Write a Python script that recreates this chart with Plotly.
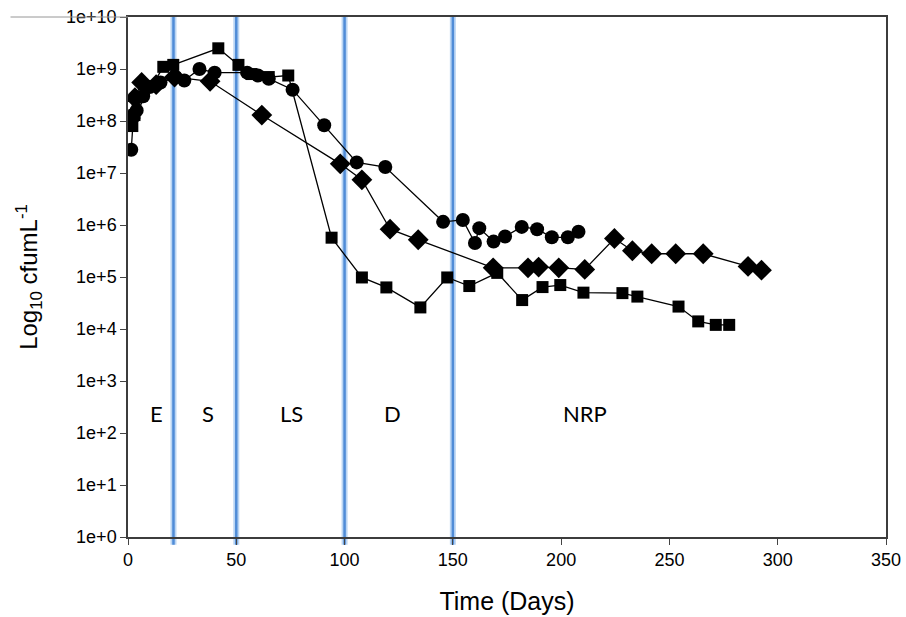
import plotly.graph_objects as go

# Circle series
circle_days = [1.5, 2.5, 4, 7, 10, 15, 22, 26, 33, 40, 55, 60, 65, 76, 90.6, 105.6, 118.8, 145.5, 154.6, 160.2, 162.2, 168.8, 174.1, 181.8, 188.9, 195.7, 203.1, 208]
circle_vals = [2.8e7, 1.2e8, 1.6e8, 3.0e8, 4.5e8, 5.5e8, 7.0e8, 6.0e8, 1.0e9, 8.5e8, 8.5e8, 7.5e8, 6.5e8, 4.0e8, 8.3e7, 1.6e7, 1.3e7, 1.15e6, 1.25e6, 4.5e5, 8.7e5, 4.8e5, 6.0e5, 9.2e5, 8.3e5, 5.8e5, 5.8e5, 7.4e5]

# Square series
square_days = [2, 3, 16.3, 20.9, 41.7, 51, 57, 65, 74, 94, 108, 119.3, 135, 147.4, 157.6, 170.5, 182, 191.4, 199.6, 210.3, 228.3, 235.2, 254.2, 263.3, 271.4, 277.6]
square_vals = [8.0e7, 1.3e8, 1.1e9, 1.2e9, 2.5e9, 1.2e9, 8.0e8, 7.0e8, 7.5e8, 5.7e5, 9.8e4, 6.3e4, 2.6e4, 9.8e4, 6.7e4, 1.2e5, 3.6e4, 6.4e4, 7.0e4, 5.0e4, 4.9e4, 4.2e4, 2.7e4, 1.4e4, 1.2e4, 1.2e4]

# Diamond series
diamond_days = [1, 3.2, 6.3, 13, 21.5, 37.9, 61.8, 98, 108, 121, 134, 168.6, 184.7, 189.6, 198.9, 210.9, 224.6, 232.9, 241.8, 252.9, 265.6, 286.3, 292.5]
diamond_vals = [1.1e8, 2.8e8, 5.5e8, 5.0e8, 7.0e8, 5.8e8, 1.3e8, 1.5e7, 7.4e6, 8.3e5, 5.2e5, 1.5e5, 1.5e5, 1.55e5, 1.5e5, 1.4e5, 5.5e5, 3.2e5, 2.8e5, 2.8e5, 2.8e5, 1.6e5, 1.35e5]

phase_lines = [21, 50, 100, 150]
phase_labels = ["E", "S", "LS", "D", "NRP"]
phase_label_x = [13, 37, 75.5, 122, 211]
phase_label_y = 240

y_tickvals = [10 ** i for i in range(11)]
y_ticktext = ["1e+%d" % i for i in range(11)]
x_tickvals = [0, 50, 100, 150, 200, 250, 300, 350]

fig = go.Figure()

line_style = dict(color="black", width=1.3)
fig.add_trace(go.Scatter(x=diamond_days, y=diamond_vals, mode="lines+markers",
                         line=line_style,
                         marker=dict(symbol="diamond", size=16, color="black"),
                         showlegend=False))
fig.add_trace(go.Scatter(x=square_days, y=square_vals, mode="lines+markers",
                         line=line_style,
                         marker=dict(symbol="square", size=12, color="black"),
                         showlegend=False))
fig.add_trace(go.Scatter(x=circle_days, y=circle_vals, mode="lines+markers",
                         line=line_style,
                         marker=dict(symbol="circle", size=14, color="black"),
                         showlegend=False))

for d in phase_lines:
    fig.add_shape(type="line", x0=d, x1=d, xref="x", y0=-0.015, y1=1, yref="paper",
                  line=dict(color="rgba(140,185,235,0.6)", width=6), layer="below")
    fig.add_shape(type="line", x0=d, x1=d, xref="x", y0=-0.015, y1=1, yref="paper",
                  line=dict(color="rgb(80,140,215)", width=2.5), layer="below")

for lab, lx in zip(phase_labels, phase_label_x):
    fig.add_annotation(x=lx, y=2.38, xref="x", yref="y", text=lab, showarrow=False,
                       font=dict(family="Lato", size=22, color="black"))

# thin gray line extending at the top-left
fig.add_shape(type="line", x0=-0.155, x1=0.0, xref="paper", y0=1, y1=1, yref="paper",
              line=dict(color="rgb(150,150,150)", width=1))

fig.update_layout(
    width=906, height=617,
    margin=dict(l=128, r=20, t=17, b=80),
    paper_bgcolor="white", plot_bgcolor="white",
    font=dict(family="Liberation Sans", color="black"),
    xaxis=dict(range=[0, 350], tickvals=x_tickvals, ticks="outside", ticklen=6,
               showline=True, linecolor="rgb(60,60,60)", linewidth=1.5, mirror=True,
               showgrid=False, zeroline=False, tickfont=dict(size=18), automargin=False,
               title=dict(text="Time (Days)", font=dict(size=25), standoff=23)),
    yaxis=dict(type="log", range=[0, 10], tickvals=y_tickvals, ticktext=y_ticktext,
               ticks="outside", ticklen=6, showline=True, linecolor="rgb(60,60,60)",
               linewidth=1.5, mirror=True, showgrid=False, zeroline=False,
               tickfont=dict(size=18), automargin=False,
               title=dict(text="Log<sub>10</sub> cfumL<sup>-1</sup>", font=dict(size=24), standoff=22)),
)

fig.write_html("out.html", config={"displayModeBar": False},
               post_script="document.body.style.margin='0';document.body.style.overflow='hidden';")
